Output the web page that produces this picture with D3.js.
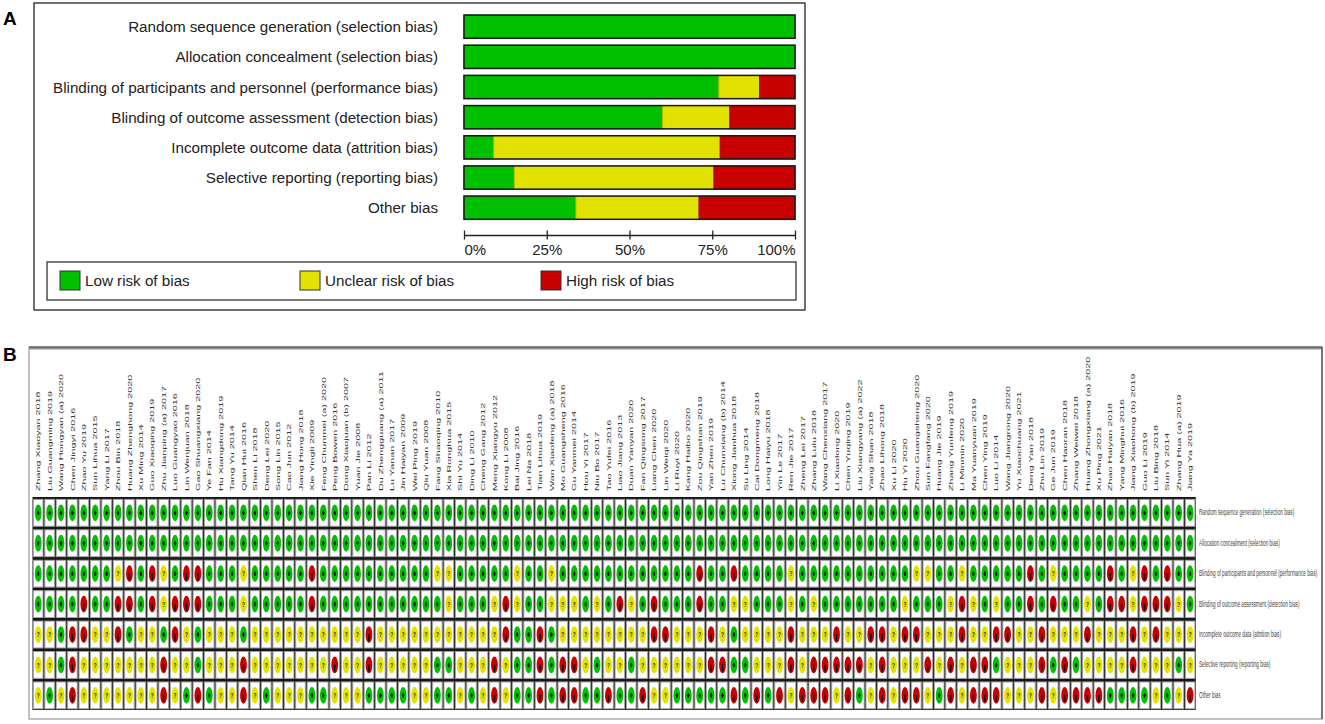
<!DOCTYPE html>
<html>
<head>
<meta charset="utf-8">
<script src="https://cdn.jsdelivr.net/npm/d3@7"></script>
<style>
  body { margin: 0; background: #fff; }
  text { font-family: Arial, "Liberation Sans", sans-serif; }
</style>
</head>
<body>
<svg id="chart" width="1325" height="724"></svg>
<script>
// bias domains (rows in both panels)
var domains = [
  "Random sequence generation (selection bias)",
  "Allocation concealment (selection bias)",
  "Blinding of participants and personnel (performance bias)",
  "Blinding of outcome assessment (detection bias)",
  "Incomplete outcome data (attrition bias)",
  "Selective reporting (reporting bias)",
  "Other bias"
];

// panel A, percent of studies
var lowPct     = [100, 100, 77.0, 60.0,  9.0, 15.2, 33.8];
var unclearPct = [  0,   0, 12.3, 20.3, 68.4, 60.3, 37.2];
var highPct    = [  0,   0, 10.7, 19.7, 22.6, 24.5, 29.0];
var tickVals = [0, 25, 50, 75, 100];
var riskNames = ["Low risk of bias", "Unclear risk of bias", "High risk of bias"];

// panel B, studies (columns)
var studies = [
  "Zhang Xiaoyan 2018", "Liu Guangming 2019", "Wang Hongyan (a) 2020", "Chen Jingyi 2016", "Zhao Yu 2019",
  "Sun Lihua 2015", "Yang Li 2017", "Zhou Bin 2018", "Huang Zhenghong 2020", "Xu Ming 2014",
  "Guo Xiaoqing 2019", "Zhu Jianping (a) 2017", "Luo Guangyao 2016", "Lin Wenjuan 2018", "Gao Shuangxiang 2020",
  "Ye Fan 2014", "Hu Xiangdong 2019", "Tang Yu 2014", "Qian Hui 2016", "Shen Li 2018",
  "Deng Lei 2020", "Song Lin 2015", "Cao Jun 2012", "Jiang Hong 2018", "Xie Yingli 2009",
  "Feng Chunmei (a) 2020", "Peng Bowen 2016", "Dong Xiaojuan (b) 2007", "Yuan Jie 2008", "Pan Li 2012",
  "Du Zhengguang (a) 2011", "Lu Yanan 2017", "Jin Haiyan 2009", "Wei Ping 2019", "Qiu Yuan 2008",
  "Fang Shaoqing 2010", "Xia Ronghua 2015", "Shi Yu 2014", "Ding Li 2010", "Cheng Gang 2012",
  "Meng Xiangyu 2012", "Kong Li 2008", "Bai Jing 2016", "Lei Na 2018", "Tian Lihua 2019",
  "Wan Xiaofeng (a) 2018", "Mo Guangsheng 2016", "Gu Yanmei 2014", "Hou Yi 2017", "Niu Bo 2017",
  "Tao Yufei 2016", "Liao Jiang 2013", "Duan Yanyan 2020", "Fan Qingsong 2017", "Liang Chen 2020",
  "Lin Weiqi 2020", "Li Ruyi 2020", "Kang Haibo 2020", "Zou Qingshan 2019", "Yan Zhen 2019",
  "Lu Chunxiang (b) 2014", "Xiong Jianhua 2018", "Su Ling 2014", "Cai Dongmeng 2018", "Long Haiyu 2018",
  "Yin Le 2017", "Ren Jie 2017", "Zheng Lei 2017", "Zhang Lulu 2018", "Wang Chenxiang 2017",
  "Li Xiaolong 2020", "Chen Yuqing 2019", "Liu Xiangyang (a) 2022", "Yang Shan 2018", "Zhao Lihong 2018",
  "Xu Li 2020", "Hu Yi 2020", "Zhou Guangsheng 2020", "Sun Fangfang 2020", "Huang Jie 2019",
  "Zhang Yunfeng 2019", "Li Minmin 2020", "Ma Yuanyuan 2019", "Chen Ying 2019", "Luo Li 2014",
  "Wang Jiangrong 2020", "Yu Xiaochuang 2021", "Deng Yan 2018", "Zhu Lin 2019", "Ge Jun 2019",
  "Chen Haoran 2018", "Zhang Weiwei 2018", "Huang Zhongxiang (a) 2020", "Xu Ping 2021", "Zhao Haiyan 2018",
  "Yang Minghui 2016", "Jiang Xiaohong (b) 2019", "Guo Li 2019", "Liu Bing 2018", "Sun Yi 2014",
  "Zhang Hua (a) 2019", "Jiang Ya 2019"
];

// judgements per study: + low, ? unclear, - high (written in groups of 10)
var randomSeq   = "++++++++++ ++++++++++ ++++++++++ ++++++++++ ++++++++++ ++++++++++ ++++++++++ ++++++++++ ++++++++++ ++++++++++ ++";
var allocation  = "++++++++++ ++++++++++ ++++++++++ ++++++++++ ++++++++++ ++++++++++ ++++++++++ ++++++++++ ++++++++++ ++++++++++ ++";
var performance = "+++++++?-+ -?+--+++?+ ++++-+++++ +++++??+++ ++?++?++++ ++++++++-+ +-++++?+++ +++++++??+ +?+++++-+? ++++-+?-+- ++";
var detection   = "++++-++--+ -?---+++?+ ++++-+++++ ++++++?+++ ?-?++???+? +-?+-+++-+ +??+++?+?+ ++++++?+++ ?-?+?++-+- ++?+--?--- ?+";
var attrition   = "??+--??-+? ?+-?+???+? ?????????- ?????????? ?-++-+???? ????--???- ?+????-??? -??--?--?? ?-??--??-? ??-???-?-? ??";
var reporting   = "??+-?????? ?-??+???-? ??????-??- ?????++??? -?++-+--?+ ??+??????- -++???-?-- ---?-???-? -?--+???-+ -+????-??? +?";
var otherBias   = "?+?-?????? ?-?+-+??-? +???++???+ +++??++?+? -?++-+--++ -++-??++++ +-+-+-?--- ?-+?-?--?+ -?---???-? ----++++?+ ?-";

var judgements = [randomSeq, allocation, performance, detection, attrition, reporting, otherBias]
  .map(function(s) { return s.replace(/ /g, "").split(""); });

var colors = { "+": "#00c000", "?": "#e2e200", "-": "#c80000" };
var riskColors = [colors["+"], colors["?"], colors["-"]];

var svg = d3.select("#chart");

// ---------- panel A ----------
svg.append("text").attr("x", 3).attr("y", 25)
  .attr("font-size", "19px").attr("font-weight", "bold").text("A");

svg.append("rect")
  .attr("x", 34).attr("y", 3).attr("width", 771).attr("height", 307)
  .attr("fill", "none").attr("stroke", "#333").attr("stroke-width", 1.4);

var xA = d3.scaleLinear().domain([0, 100]).range([464, 795]);
var yA = d3.scaleBand().domain(domains).range([11.6, 222.8])
  .paddingInner(0.23).paddingOuter(0.115);

var stacks = domains.map(function(d, i) {
  return [
    { dom: d, x0: 0, x1: lowPct[i], c: riskColors[0] },
    { dom: d, x0: lowPct[i], x1: lowPct[i] + unclearPct[i], c: riskColors[1] },
    { dom: d, x0: lowPct[i] + unclearPct[i], x1: lowPct[i] + unclearPct[i] + highPct[i], c: riskColors[2] }
  ];
});

var barG = svg.append("g");
barG.selectAll("g.bar")
  .data(stacks)
  .enter().append("g").attr("class", "bar")
  .selectAll("rect")
  .data(function(d) { return d.filter(function(s) { return s.x1 > s.x0; }); })
  .enter().append("rect")
  .attr("x", function(s) { return xA(s.x0); })
  .attr("y", function(s) { return yA(s.dom); })
  .attr("width", function(s) { return xA(s.x1) - xA(s.x0); })
  .attr("height", yA.bandwidth())
  .attr("fill", function(s) { return s.c; })
  .attr("stroke", function(s) { return d3.color(s.c).darker(0.5); })
  .attr("stroke-width", 1);

barG.selectAll("rect.outline")
  .data(domains)
  .enter().append("rect").attr("class", "outline")
  .attr("x", xA(0)).attr("y", function(d) { return yA(d); })
  .attr("width", xA(100) - xA(0)).attr("height", yA.bandwidth())
  .attr("fill", "none").attr("stroke", "#1a1a1a").attr("stroke-width", 1.5);

svg.selectAll("text.dlabel")
  .data(domains)
  .enter().append("text").attr("class", "dlabel")
  .attr("x", 438)
  .attr("y", function(d) { return yA(d) + yA.bandwidth() / 2; })
  .attr("dy", "0.36em")
  .attr("text-anchor", "end")
  .attr("font-size", "15.2px")
  .attr("fill", "#222")
  .text(function(d) { return d; });

var axA = svg.append("g").attr("transform", "translate(0,235)")
  .call(d3.axisBottom(xA).tickValues(tickVals).tickSizeOuter(0)
    .tickFormat(function(d) { return d + "%"; }));
axA.select(".domain").attr("stroke", "#222").attr("stroke-width", 1.3);
axA.selectAll(".tick line").attr("y1", -4.5).attr("y2", 4.5)
  .attr("stroke", "#222").attr("stroke-width", 1.3);
axA.selectAll(".tick text")
  .attr("y", 9).attr("dy", "0.71em")
  .attr("font-size", "15px").attr("fill", "#222")
  .attr("font-family", "Arial, 'Liberation Sans', sans-serif")
  .attr("text-anchor", function(d) { return d === 0 ? "start" : (d === 100 ? "end" : "middle"); });

// legend
svg.append("rect")
  .attr("x", 47).attr("y", 262).attr("width", 749).attr("height", 38)
  .attr("fill", "none").attr("stroke", "#333").attr("stroke-width", 1.3);

var legX = [60, 300, 541];
var leg = svg.selectAll("g.leg")
  .data(riskNames)
  .enter().append("g").attr("class", "leg")
  .attr("transform", function(d, i) { return "translate(" + legX[i] + ",271)"; });
leg.append("rect").attr("width", 20).attr("height", 19)
  .attr("fill", function(d, i) { return riskColors[i]; })
  .attr("stroke", "#333").attr("stroke-width", 1);
leg.append("text").attr("x", 25).attr("y", 9.5).attr("dy", "0.36em")
  .attr("font-size", "15.2px").attr("fill", "#222")
  .text(function(d) { return d; });

// ---------- panel B ----------
svg.append("text").attr("x", 3).attr("y", 361)
  .attr("font-size", "19px").attr("font-weight", "bold").text("B");

svg.append("rect")
  .attr("x", 29).attr("y", 347).attr("width", 1293).attr("height", 372)
  .attr("fill", "none").attr("stroke", "#9a9a9a").attr("stroke-width", 1.2);
svg.append("line").attr("x1", 29).attr("x2", 1322).attr("y1", 347.5).attr("y2", 347.5)
  .attr("stroke", "#707070").attr("stroke-width", 2.5);
svg.append("line").attr("x1", 29).attr("x2", 1322).attr("y1", 349.5).attr("y2", 349.5)
  .attr("stroke", "#c8c8c8").attr("stroke-width", 1.2);
svg.append("line").attr("x1", 1322).attr("x2", 1322).attr("y1", 347).attr("y2", 719)
  .attr("stroke", "#555").attr("stroke-width", 1.4);

var xB = d3.scaleBand().domain(studies).range([32.5, 1195.8]);
var yB = d3.scaleBand().domain(domains).range([497, 710]);

var defs = svg.append("defs");
defs.append("filter").attr("id", "soft")
  .append("feGaussianBlur").attr("stdDeviation", 0.45);

var gridB = svg.append("g");
gridB.append("rect")
  .attr("x", xB.range()[0]).attr("y", yB.range()[0])
  .attr("width", xB.range()[1] - xB.range()[0])
  .attr("height", yB.range()[1] - yB.range()[0])
  .attr("fill", "#161616");

var cells = [];
domains.forEach(function(d, r) {
  studies.forEach(function(s, c) {
    cells.push({ dom: d, study: s, v: judgements[r][c] });
  });
});

var cw = xB.bandwidth(), ch = yB.bandwidth();

gridB.selectAll("rect.cell")
  .data(cells)
  .enter().append("rect").attr("class", "cell")
  .attr("x", function(d) { return xB(d.study) + 0.9; })
  .attr("y", function(d) { return yB(d.dom) + 2.4; })
  .attr("width", cw - 1.8)
  .attr("height", ch - 3.6)
  .attr("fill", "#fff")
  .attr("stroke", "#a3a3a3").attr("stroke-width", 1);

gridB.selectAll("ellipse.dot")
  .data(cells)
  .enter().append("ellipse").attr("class", "dot")
  .attr("cx", function(d) { return xB(d.study) + cw / 2; })
  .attr("cy", function(d) { return yB(d.dom) + ch / 2 + 0.6; })
  .attr("rx", 3.4).attr("ry", 8.4)
  .attr("fill", function(d) { return colors[d.v]; })
  .attr("filter", "url(#soft)");

// symbol marks
gridB.selectAll("g.mark")
  .data(cells)
  .enter().append("g").attr("class", "mark")
  .attr("transform", function(d) {
    return "translate(" + (xB(d.study) + cw / 2) + "," + (yB(d.dom) + ch / 2 + 0.6) + ")";
  })
  .each(function(d) {
    var g = d3.select(this);
    if (d.v === "+") {
      g.append("rect").attr("x", -0.8).attr("y", -2.2).attr("width", 1.6).attr("height", 4.4).attr("fill", "#111");
      g.append("rect").attr("x", -1.3).attr("y", -0.5).attr("width", 2.6).attr("height", 1).attr("fill", "#111");
    } else if (d.v === "?") {
      g.append("text").attr("x", 0).attr("y", 2.6)
        .attr("transform", "scale(0.6,1)")
        .attr("text-anchor", "middle").attr("font-size", "8px").attr("font-weight", "bold")
        .attr("fill", "#222").text("?");
    } else {
      g.append("rect").attr("x", -0.8).attr("y", -0.5).attr("width", 1.6).attr("height", 7).attr("fill", "#111");
    }
  });

// study labels, rotated and squeezed like the source image
svg.selectAll("text.study")
  .data(studies)
  .enter().append("text").attr("class", "study")
  .attr("transform", function(d) {
    return "translate(" + (xB(d) + cw / 2 + 2.2) + ",491) scale(0.52,1) rotate(-90)";
  })
  .attr("font-size", "10.8px")
  .attr("fill", "#333")
  .text(function(d) { return d; });

// domain labels on the right
svg.selectAll("text.rowlab")
  .data(domains)
  .enter().append("text").attr("class", "rowlab")
  .attr("transform", function(d) {
    return "translate(1199," + (yB(d) + ch / 2 + 3) + ") scale(0.52,1)";
  })
  .attr("font-size", "9px")
  .attr("fill", "#444")
  .text(function(d) { return d; });
</script>
</body>
</html>
